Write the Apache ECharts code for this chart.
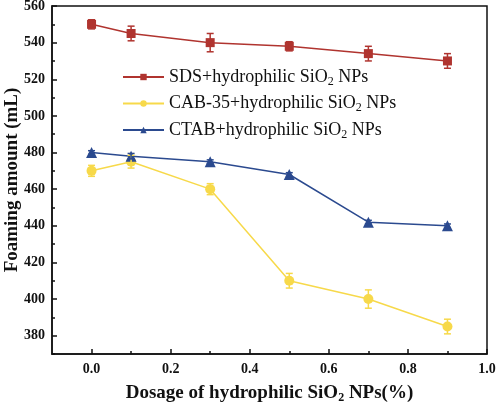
<!DOCTYPE html>
<html><head><meta charset="utf-8">
<script src="https://cdn.jsdelivr.net/npm/echarts@6/dist/echarts.min.js"></script>
<style>html,body{margin:0;padding:0;background:#fff}#c{width:496px;height:408px}</style>
</head><body><div id="c"></div>
<script>
const dosage = [0.0, 0.1, 0.3, 0.5, 0.7, 0.9];
const sdsValues = [550, 545, 540, 538, 534, 530];
const sdsErrors = [2.5, 4, 5, 2.5, 4, 4];
const cabValues = [470, 475, 460, 410, 400, 385];
const cabErrors = [3, 3.5, 3, 4, 5, 4];
const ctabValues = [480, 478, 475, 468, 442, 440];
const ctabErrors = [1, 1.5, 1, 1, 1, 1];
const seriesNames = ['SDS+hydrophilic SiO2 NPs', 'CAB-35+hydrophilic SiO2 NPs', 'CTAB+hydrophilic SiO2 NPs'];
const xTickLabels = [0.0, 0.2, 0.4, 0.6, 0.8, 1.0];
const xMinorTicks = [0.1, 0.3, 0.5, 0.7, 0.9];
const yTickLabels = [380, 400, 420, 440, 460, 480, 500, 520, 540, 560];
const yMinorTicks = [370, 390, 410, 430, 450, 470, 490, 510, 530, 550];

const colors = ['#b0342f', '#f7d94a', '#2b4a8f'];
const serif = 'Liberation Serif';

function pairs(vals){ return dosage.map((d,i)=>[d, vals[i]]); }
function errData(vals, errs){ return dosage.map((d,i)=>[d, vals[i]-errs[i], vals[i]+errs[i]]); }

function errSeries(name, vals, errs, color){
  return {
    type: 'custom', name: name, z: 4,
    data: errData(vals, errs),
    renderItem: function(params, api){
      const x = api.value(0);
      const lo = api.coord([x, api.value(1)]);
      const hi = api.coord([x, api.value(2)]);
      const w = 3.5;
      const st = {stroke: color, lineWidth: 1.5};
      return {type: 'group', children: [
        {type: 'line', shape: {x1: lo[0], y1: lo[1], x2: hi[0], y2: hi[1]}, style: st},
        {type: 'line', shape: {x1: lo[0]-w, y1: lo[1], x2: lo[0]+w, y2: lo[1]}, style: st},
        {type: 'line', shape: {x1: hi[0]-w, y1: hi[1], x2: hi[0]+w, y2: hi[1]}, style: st}
      ]};
    }
  };
}
function lineSeries(name, vals, color, symbol, size){
  return {
    type: 'line', name: name, data: pairs(vals), symbol: symbol, symbolSize: size,
    showAllSymbol: true, z: 3,
    lineStyle: {color: color, width: 1.5}, itemStyle: {color: color}
  };
}

const axisLineStyle = {color: '#111', width: 1.5};
const labelStyle = {color: '#111', fontFamily: serif, fontWeight: 'bold', fontSize: 14};

const chart = echarts.init(document.getElementById('c'));
chart.setOption({
  animation: false,
  grid: {left: 52, right: 9, top: 6, bottom: 54, containLabel: false, outerBoundsMode: 'none',
         show: true, borderColor: '#111', borderWidth: 1.5, backgroundColor: 'transparent'},
  legend: {
    data: seriesNames, orient: 'vertical', left: 117, top: 63,
    itemWidth: 41, itemHeight: 8, itemGap: 7,
    formatter: n => n.replace('SiO2', 'SiO{sub|2}'),
    textStyle: {fontFamily: serif, fontSize: 18, color: '#111',
      rich: {sub: {fontSize: 12, fontFamily: serif, padding: [9, 0, 0, 0]}}}
  },
  xAxis: [{
    type: 'value', min: -0.1, max: 1.0,
    axisLine: {show: true, onZero: false, lineStyle: axisLineStyle},
    axisTick: {show: true, inside: true, length: 5, customValues: xTickLabels, lineStyle: axisLineStyle},
    axisLabel: Object.assign({customValues: xTickLabels, margin: 8, formatter: v => v.toFixed(1)}, labelStyle),
    splitLine: {show: false},
    name: 'Dosage of hydrophilic SiO{sub|2} NPs(%)', nameLocation: 'middle', nameGap: 28,
    nameTextStyle: {fontFamily: serif, fontWeight: 'bold', fontSize: 19, color: '#111',
      rich: {sub: {fontSize: 12, fontFamily: serif, fontWeight: 'bold', padding: [10,0,0,0]}}}
  }, {
    type: 'value', min: -0.1, max: 1.0, position: 'bottom',
    axisLine: {show: false, onZero: false},
    axisTick: {show: true, inside: true, length: 3, customValues: xMinorTicks, lineStyle: axisLineStyle},
    axisLabel: {show: false}, splitLine: {show: false}
  }],
  yAxis: [{
    type: 'value', min: 370, max: 560,
    axisLine: {show: true, onZero: false, lineStyle: axisLineStyle},
    axisTick: {show: true, inside: true, length: 5, customValues: yTickLabels, lineStyle: axisLineStyle},
    axisLabel: Object.assign({customValues: yTickLabels, margin: 7}, labelStyle),
    splitLine: {show: false},
    name: 'Foaming amount (mL)', nameLocation: 'middle', nameGap: 30, nameMoveOverlap: false,
    nameTextStyle: {fontFamily: serif, fontWeight: 'bold', fontSize: 19, color: '#111'}
  }, {
    type: 'value', min: 370, max: 560, position: 'left',
    axisLine: {show: false, onZero: false},
    axisTick: {show: true, inside: true, length: 3, customValues: yMinorTicks, lineStyle: axisLineStyle},
    axisLabel: {show: false}, splitLine: {show: false}
  }],
  series: [
    lineSeries(seriesNames[0], sdsValues, colors[0], 'rect', 9),
    lineSeries(seriesNames[1], cabValues, colors[1], 'circle', 10),
    lineSeries(seriesNames[2], ctabValues, colors[2], 'triangle', 11),
    errSeries('sdsErr', sdsValues, sdsErrors, colors[0]),
    errSeries('cabErr', cabValues, cabErrors, colors[1]),
    errSeries('ctabErr', ctabValues, ctabErrors, colors[2])
  ]
});
</script></body></html>
